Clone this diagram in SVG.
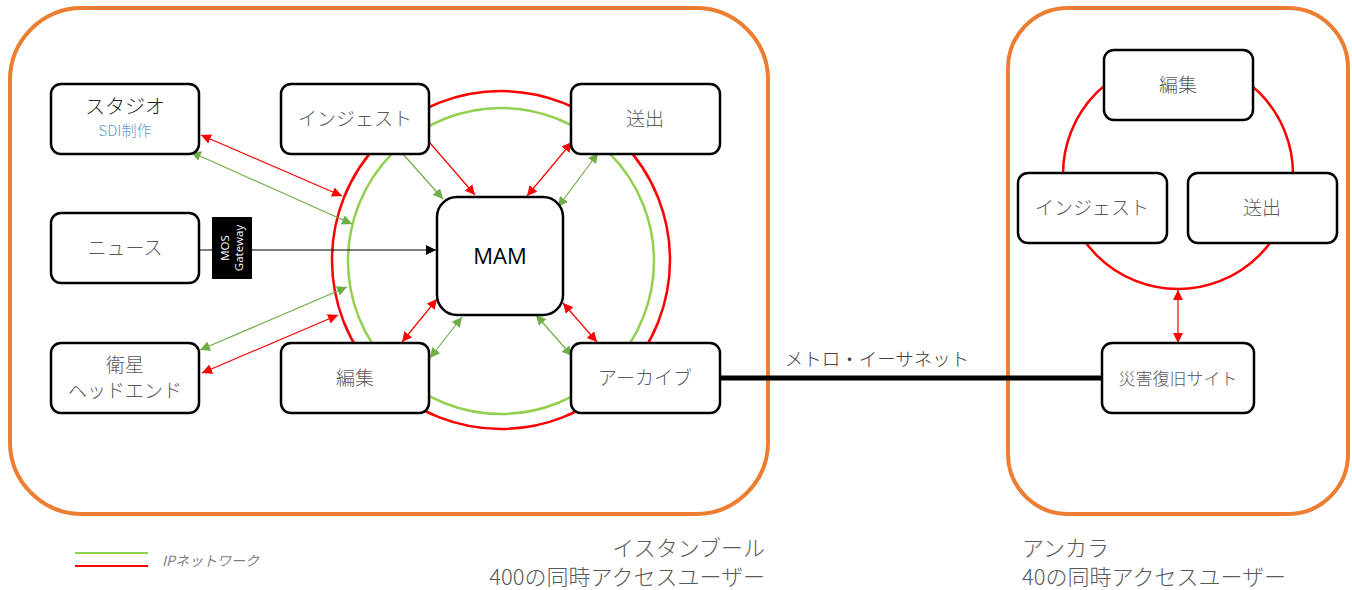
<svg xmlns="http://www.w3.org/2000/svg" width="1352" height="590" viewBox="0 0 1352 590">
<defs>
<style>
.site{fill:none;stroke:#ED7D31;stroke-width:4}
.node rect{fill:#fff;stroke:#000;stroke-width:2.5}
.t{font-family:"Noto Sans CJK JP","Liberation Sans",sans-serif;font-weight:300;font-size:19px;fill:#595959;text-anchor:middle}
.r{stroke:#FF0000;stroke-width:1.2;fill:none}
.g{stroke:#70AD47;stroke-width:1.2;fill:none}
.big{font-family:"Noto Sans CJK JP","Liberation Sans",sans-serif;font-weight:300;font-size:22px;fill:#595959}
</style>
<marker id="ar" viewBox="0 0 10 10" refX="10" refY="5" markerWidth="10" markerHeight="10" markerUnits="userSpaceOnUse" orient="auto-start-reverse"><path d="M0,0L10,5L0,10z" fill="#FF0000"/></marker>
<marker id="ag" viewBox="0 0 10 10" refX="10" refY="5" markerWidth="10" markerHeight="10" markerUnits="userSpaceOnUse" orient="auto-start-reverse"><path d="M0,0L10,5L0,10z" fill="#70AD47"/></marker>
<marker id="ak" viewBox="0 0 10 10" refX="10" refY="5" markerWidth="10" markerHeight="10" markerUnits="userSpaceOnUse" orient="auto"><path d="M0,0L10,5L0,10z" fill="#000"/></marker>
</defs>
<rect width="1352" height="590" fill="#fff"/>
<rect class="site" x="10" y="8" width="758" height="506" rx="72"/>
<rect class="site" x="1008" y="8" width="340" height="506" rx="60"/>
<g id="rings">
<circle cx="501" cy="260" r="169" fill="none" stroke="#FF0000" stroke-width="2.5"/>
<circle cx="501" cy="261" r="153" fill="none" stroke="#92D050" stroke-width="2.5"/>
<circle cx="1178" cy="174" r="115" fill="none" stroke="#FF0000" stroke-width="2.5"/>
</g>
<g id="connectors">
<line class="r" x1="201" y1="135" x2="342" y2="196" marker-start="url(#ar)" marker-end="url(#ar)"/>
<line class="g" x1="191" y1="152" x2="352" y2="224" marker-start="url(#ag)" marker-end="url(#ag)"/>
<line class="g" x1="402" y1="153" x2="443" y2="199" marker-end="url(#ag)"/>
<line class="r" x1="430" y1="143" x2="475" y2="195" marker-end="url(#ar)"/>
<line class="r" x1="572" y1="142" x2="527" y2="196" marker-start="url(#ar)" marker-end="url(#ar)"/>
<line class="g" x1="598" y1="153" x2="558" y2="207" marker-start="url(#ag)" marker-end="url(#ag)"/>
<line x1="199" y1="250" x2="436" y2="250" stroke="#000" stroke-width="1.2" marker-end="url(#ak)"/>
<line class="g" x1="200" y1="350" x2="347" y2="287" marker-start="url(#ag)" marker-end="url(#ag)"/>
<line class="r" x1="202" y1="373" x2="338" y2="315" marker-start="url(#ar)" marker-end="url(#ar)"/>
<line class="r" x1="402" y1="342" x2="437" y2="299" marker-start="url(#ar)" marker-end="url(#ar)"/>
<line class="g" x1="430" y1="358" x2="462" y2="317" marker-start="url(#ag)" marker-end="url(#ag)"/>
<line class="r" x1="563" y1="303" x2="597" y2="342" marker-start="url(#ar)" marker-end="url(#ar)"/>
<line class="g" x1="536" y1="315" x2="572" y2="356" marker-start="url(#ag)" marker-end="url(#ag)"/>
<line class="r" x1="1178" y1="290" x2="1178" y2="343" marker-start="url(#ar)" marker-end="url(#ar)"/>
<line x1="720" y1="378" x2="1102" y2="378" stroke="#000" stroke-width="5"/>
</g>
<text class="t" x="877" y="366" style="fill:#404040;font-size:18.5px">メトロ・イーサネット</text>
<g id="studio" class="node"><rect x="51" y="84" width="148" height="70" rx="10"/><text class="t" x="125" y="114" style="fill:#262626;font-size:20px">スタジオ</text><text class="t" x="125" y="136" style="fill:#5B9BD5;font-size:15px">SDI制作</text></g>
<g id="ingest" class="node"><rect x="281" y="84" width="148" height="70" rx="10"/><text class="t" x="355" y="126">インジェスト</text></g>
<g id="playout" class="node"><rect x="571" y="84" width="149" height="70" rx="10"/><text class="t" x="645" y="126">送出</text></g>
<g id="news" class="node"><rect x="51" y="213" width="148" height="70" rx="10"/><text class="t" x="125" y="255">ニュース</text></g>
<g id="mos"><rect x="212" y="217" width="40" height="62" fill="#000"/><text transform="translate(232,248) rotate(-90)" font-family="Open Sans,Liberation Sans,sans-serif" font-size="11.5" fill="#fff" text-anchor="middle"><tspan x="0" y="-3">MOS</tspan><tspan x="0" y="11">Gateway</tspan></text></g>
<g id="mam" class="node"><rect x="437" y="197" width="126" height="118" rx="20"/><text x="500" y="264" font-family="Open Sans,Liberation Sans,sans-serif" font-size="22" fill="#000" text-anchor="middle">MAM</text></g>
<g id="satellite" class="node"><rect x="51" y="343" width="148" height="70" rx="10"/><text class="t" x="125" y="372">衛星</text><text class="t" x="125" y="398">ヘッドエンド</text></g>
<g id="edit" class="node"><rect x="281" y="343" width="148" height="70" rx="10"/><text class="t" x="355" y="385">編集</text></g>
<g id="archive" class="node"><rect x="571" y="343" width="149" height="70" rx="10"/><text class="t" x="645" y="385">アーカイブ</text></g>
<g id="a-edit" class="node"><rect x="1104" y="50" width="149" height="70" rx="10"/><text class="t" x="1178" y="92">編集</text></g>
<g id="a-ingest" class="node"><rect x="1018" y="173" width="149" height="70" rx="10"/><text class="t" x="1092" y="215">インジェスト</text></g>
<g id="a-playout" class="node"><rect x="1188" y="173" width="149" height="70" rx="10"/><text class="t" x="1262" y="215">送出</text></g>
<g id="dr" class="node"><rect x="1102" y="343" width="152" height="70" rx="10"/><text class="t" x="1178" y="385" style="font-size:17px">災害復旧サイト</text></g>
<g id="legend">
<line x1="75" y1="553" x2="148" y2="553" stroke="#92D050" stroke-width="2"/>
<line x1="75" y1="566" x2="148" y2="566" stroke="#FF0000" stroke-width="2"/>
<text x="162" y="566" font-family="Noto Sans CJK JP,Liberation Sans,sans-serif" font-size="14" font-style="italic" fill="#7F7F7F">IPネットワーク</text>
</g>
<text class="big" x="765" y="556" text-anchor="end">イスタンブール</text>
<text class="big" x="765" y="585" text-anchor="end">400の同時アクセスユーザー</text>
<text class="big" x="1022" y="556">アンカラ</text>
<text class="big" x="1022" y="585">40の同時アクセスユーザー</text>
</svg>
